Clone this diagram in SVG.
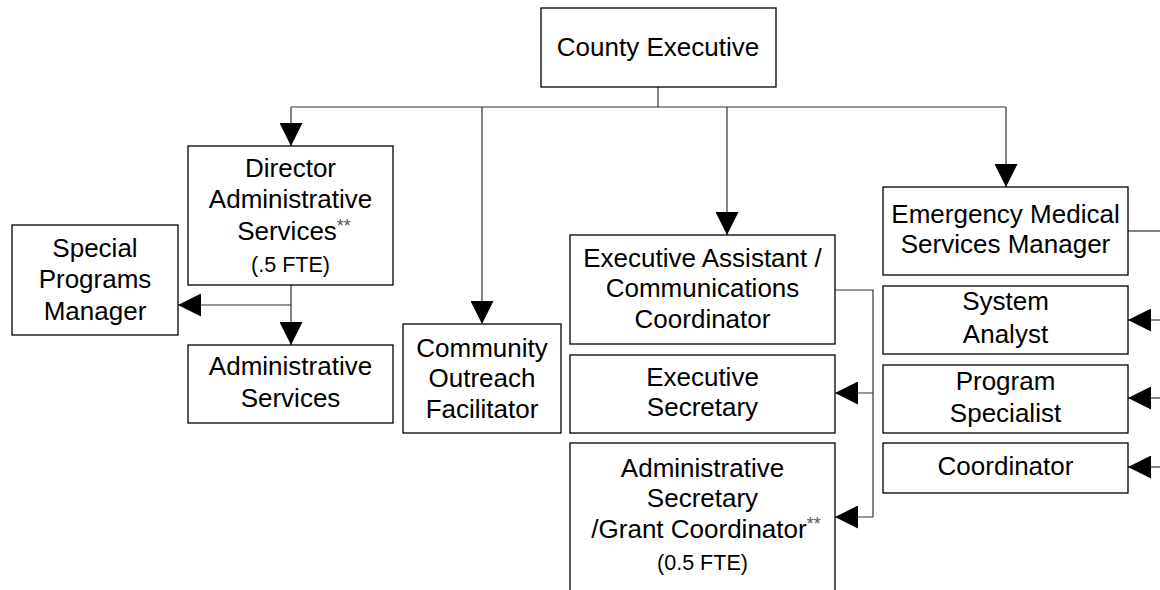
<svg xmlns="http://www.w3.org/2000/svg" width="1160" height="590" viewBox="0 0 1160 590">
<style>
.box{fill:#fff;stroke:#000;stroke-width:1.3}
.t{font-family:"Liberation Sans",Arial,sans-serif;font-size:26px;fill:#000;text-anchor:middle}
.s{font-size:21.5px}
.ast{font-size:18px;fill:#555}
.c{fill:none;stroke:#333;stroke-width:1.2}
</style>
<defs>
<marker id="ah" viewBox="0 0 23 23" refX="23" refY="11.5" markerWidth="23" markerHeight="23" orient="auto" markerUnits="userSpaceOnUse">
<path d="M0,0 L23,11.5 L0,23 z" fill="#000"/>
</marker>
</defs>
<rect width="1160" height="590" fill="#fff"/>
<g id="connectors">
<path class="c" d="M658,87 V107 M291,107 H1006"/>
<path class="c" d="M291,107 V146" marker-end="url(#ah)"/>
<path class="c" d="M482,107 V324" marker-end="url(#ah)"/>
<path class="c" d="M727,107 V235" marker-end="url(#ah)"/>
<path class="c" d="M1006,107 V187" marker-end="url(#ah)"/>
<path class="c" d="M291,285 V345" marker-end="url(#ah)"/>
<path class="c" d="M291,305 H178" marker-end="url(#ah)"/>
<path class="c" d="M835,290 H873 V517"/>
<path class="c" d="M873,393 H835" marker-end="url(#ah)"/>
<path class="c" d="M873,517 H835" marker-end="url(#ah)"/>
<path class="c" d="M1128,231 H1160"/>
<path class="c" d="M1160,320 H1128" marker-end="url(#ah)"/>
<path class="c" d="M1160,398 H1128" marker-end="url(#ah)"/>
<path class="c" d="M1160,467 H1128" marker-end="url(#ah)"/>
</g>
<g id="county-executive">
<rect class="box" x="541" y="8" width="235" height="79"/>
<text class="t" x="658" y="56">County Executive</text>
</g>
<g id="director">
<rect class="box" x="188" y="146" width="205" height="139"/>
<text class="t" x="290.5" y="177">Director</text>
<text class="t" x="290.5" y="208">Administrative</text>
<text class="t" x="294" y="240">Services<tspan class="ast" dy="-8">**</tspan></text>
<text class="t s" x="290.5" y="272">(.5 FTE)</text>
</g>
<g id="special-programs">
<rect class="box" x="12" y="225" width="166" height="110"/>
<text class="t" x="95" y="257">Special</text>
<text class="t" x="95" y="288">Programs</text>
<text class="t" x="95" y="320">Manager</text>
</g>
<g id="admin-services">
<rect class="box" x="188" y="345" width="205" height="78"/>
<text class="t" x="290.5" y="375">Administrative</text>
<text class="t" x="290.5" y="407">Services</text>
</g>
<g id="community-outreach">
<rect class="box" x="403" y="324" width="158" height="109"/>
<text class="t" x="482" y="357">Community</text>
<text class="t" x="482" y="387">Outreach</text>
<text class="t" x="482" y="418">Facilitator</text>
</g>
<g id="exec-assistant">
<rect class="box" x="570" y="235" width="265" height="109"/>
<text class="t" x="702.5" y="267">Executive Assistant /</text>
<text class="t" x="702.5" y="297">Communications</text>
<text class="t" x="702.5" y="328">Coordinator</text>
</g>
<g id="exec-secretary">
<rect class="box" x="570" y="355" width="265" height="78"/>
<text class="t" x="702.5" y="386">Executive</text>
<text class="t" x="702.5" y="416">Secretary</text>
</g>
<g id="admin-secretary">
<rect class="box" x="570" y="443" width="265" height="152"/>
<text class="t" x="702.5" y="477">Administrative</text>
<text class="t" x="702.5" y="507">Secretary</text>
<text class="t" x="706" y="538">/Grant Coordinator<tspan class="ast" dy="-8">**</tspan></text>
<text class="t s" x="702.5" y="570">(0.5 FTE)</text>
</g>
<g id="ems-manager">
<rect class="box" x="883" y="187" width="245" height="88"/>
<text class="t" x="1005.5" y="223">Emergency Medical</text>
<text class="t" x="1005.5" y="253">Services Manager</text>
</g>
<g id="system-analyst">
<rect class="box" x="883" y="286" width="245" height="68"/>
<text class="t" x="1005.5" y="310">System</text>
<text class="t" x="1005.5" y="343">Analyst</text>
</g>
<g id="program-specialist">
<rect class="box" x="883" y="365" width="245" height="68"/>
<text class="t" x="1005.5" y="390">Program</text>
<text class="t" x="1005.5" y="422">Specialist</text>
</g>
<g id="coordinator">
<rect class="box" x="883" y="443" width="245" height="50"/>
<text class="t" x="1005.5" y="475">Coordinator</text>
</g>
</svg>
